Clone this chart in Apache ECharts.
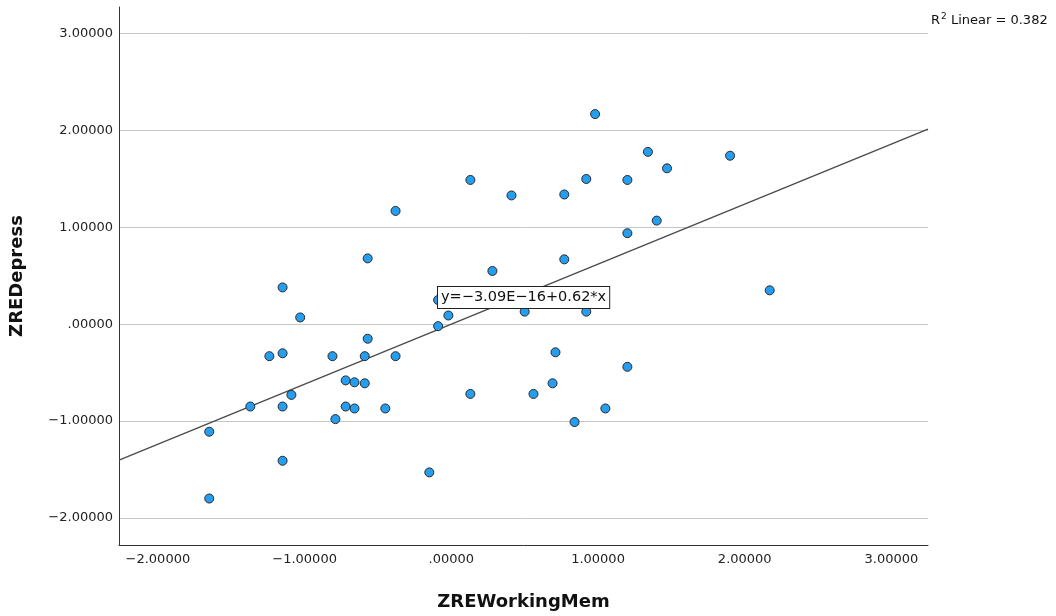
<!DOCTYPE html>
<html>
<head>
<meta charset="utf-8">
<script src="https://cdn.jsdelivr.net/npm/echarts@6/dist/echarts.min.js"></script>
<style>
html,body{margin:0;padding:0;background:#fff;}
#chart{width:1056px;height:616px;}
</style>
</head>
<body>
<div id="chart"></div>
<script>
// ---- data ----
const workingMem = [-1.65,-1.65,-1.37,-1.24,-1.15,-1.15,-1.15,-1.15,-1.09,-1.03,
  -0.81,-0.79,-0.72,-0.72,-0.66,-0.66,-0.59,-0.59,-0.57,-0.57,
  -0.45,-0.38,-0.38,-0.15,-0.09,-0.09,-0.02,0.13,0.13,0.28,
  0.41,0.50,0.56,0.69,0.71,0.77,0.77,0.84,0.92,0.92,
  0.98,1.05,1.20,1.20,1.20,1.34,1.40,1.47,1.90,2.17];
const depress = [-1.11,-1.80,-0.85,-0.33,0.38,-0.30,-0.85,-1.41,-0.73,0.07,
  -0.33,-0.98,-0.58,-0.85,-0.60,-0.87,-0.61,-0.33,-0.15,0.68,
  -0.87,1.17,-0.33,-1.53,0.25,-0.02,0.09,1.49,-0.72,0.55,
  1.33,0.13,-0.72,-0.61,-0.29,1.34,0.67,-1.01,1.50,0.13,
  2.17,-0.87,1.49,0.94,-0.44,1.78,1.07,1.61,1.74,0.35];
const fitIntercept = -3.09e-16;
const fitSlope = 0.62;
const rSquared = 0.382;
const xTickValues = [-2,-1,0,1,2,3];
const xTickLabels = ['\u22122.00000','\u22121.00000','.00000','1.00000','2.00000','3.00000'];
const yTickValues = [-2,-1,0,1,2,3];
const yTickLabels = ['\u22122.00000','\u22121.00000','.00000','1.00000','2.00000','3.00000'];
const xName = 'ZREWorkingMem';
const yName = 'ZREDepress';
const equationText = 'y=\u22123.09E\u221216+0.62*x';

// ---- chart ----
const X_MIN = -2.265, X_MAX = 3.249, Y_MIN = -2.28, Y_MAX = 3.276;
const points = workingMem.map((x, i) => [x, depress[i]]);
const fitLine = [X_MIN, X_MAX].map(x => [x, fitIntercept + fitSlope * x]);
const FONT = '"DejaVu Sans", "Lucida Grande", sans-serif';

const chart = echarts.init(document.getElementById('chart'), null, {renderer: 'canvas'});
chart.setOption({
  animation: false,
  backgroundColor: '#fff',
  grid: {left: 117, right: 128, top: 7, bottom: 66, containLabel: false},
  xAxis: {
    type: 'value', min: X_MIN, max: X_MAX,
    name: xName, nameLocation: 'middle', nameGap: 48,
    nameTextStyle: {fontFamily: FONT, fontWeight: 'bold', fontSize: 18, color: '#111'},
    axisLine: {show: true, onZero: false, lineStyle: {color: '#333', width: 1}},
    axisTick: {show: false, customValues: xTickValues},
    axisLabel: {customValues: xTickValues, margin: 8, fontFamily: FONT, fontSize: 13, color: '#222',
      formatter: v => xTickLabels[xTickValues.indexOf(Math.round(v))] || ''},
    splitLine: {show: false}
  },
  yAxis: {
    type: 'value', min: Y_MIN, max: Y_MAX,
    name: yName, nameLocation: 'middle', nameGap: 93, nameRotate: 90,
    nameTextStyle: {fontFamily: FONT, fontWeight: 'bold', fontSize: 18, color: '#111'},
    axisLine: {show: true, onZero: false, lineStyle: {color: '#333', width: 1}},
    axisTick: {show: false, customValues: yTickValues},
    axisLabel: {customValues: yTickValues, margin: 6, fontFamily: FONT, fontSize: 13, color: '#222',
      formatter: v => yTickLabels[yTickValues.indexOf(Math.round(v))] || ''},
    splitLine: {show: true, lineStyle: {color: '#c6c6c6', width: 1}}
  },
  series: [
    {
      type: 'line', data: fitLine, showSymbol: false, silent: true,
      lineStyle: {color: '#4a4a4a', width: 1.3}, z: 1
    },
    {
      type: 'scatter', data: points, symbol: 'circle', symbolSize: 9,
      itemStyle: {color: '#259ef0', borderColor: '#2a2a2a', borderWidth: 1, opacity: 1}, z: 3
    }
  ],
  graphic: [
    {
      type: 'text', left: 437, top: 286, z: 10,
      style: {text: equationText, font: '14.5px ' + FONT, fill: '#111',
        backgroundColor: '#fff', borderColor: '#222', borderWidth: 1, padding: [3, 3, 3, 3]}
    },
    {
      type: 'text', left: 931, top: 12, z: 10,
      style: {
        text: '{a|R}{s|2}{a| Linear = ' + rSquared + '}',
        rich: {
          a: {fontFamily: FONT, fontSize: 13, fill: '#111', color: '#111'},
          s: {fontFamily: FONT, fontSize: 9, fill: '#111', color: '#111', padding: [0, 0, 8, 1]}
        }
      }
    }
  ]
});
</script>
</body>
</html>
